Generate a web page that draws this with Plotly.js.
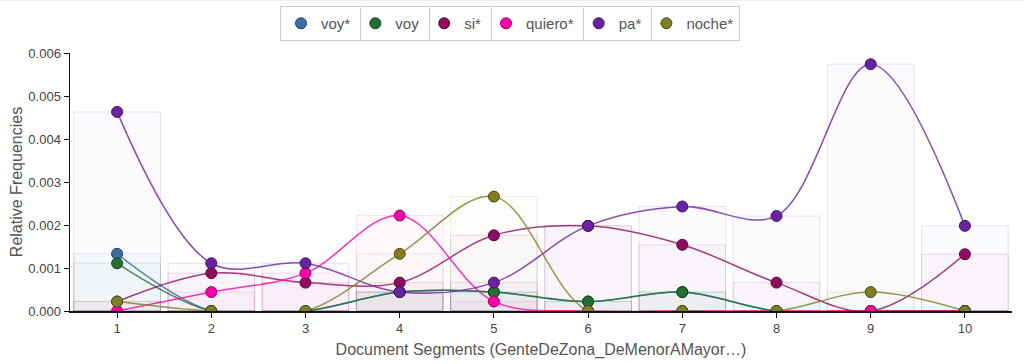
<!DOCTYPE html>
<html>
<head>
<meta charset="utf-8">
<script src="https://cdn.plot.ly/plotly-3.0.1.min.js"></script>
<style>
html,body{margin:0;padding:0;background:#fff;}
#chart{width:1024px;height:364px;}
</style>
</head>
<body>
<div id="chart"></div>
<script>
const segments = [1, 2, 3, 4, 5, 6, 7, 8, 9, 10];
const seriesNames = ["voy*", "voy", "si*", "quiero*", "pa*", "noche*"];
const seriesColors = ["#3a6ea5", "#22702f", "#900c5f", "#ff00a8", "#6a22a3", "#7f7f22"];
const voyStar   = [0.00133, 0, 0, 0.00044, 0.00044, 0.00022, 0.00044, 0, 0, 0];
const voy       = [0.00111, 0, 0, 0.00044, 0.00044, 0.00022, 0.00044, 0, 0, 0];
const siStar    = [0.00022, 0.00088, 0.00066, 0.00066, 0.00176, 0.00198, 0.00154, 0.00066, 0, 0.00132];
const quieroStar= [0, 0.00044, 0.00088, 0.00222, 0.00022, 0, 0, 0, 0, 0];
const paStar    = [0.00463, 0.00111, 0.00111, 0.00044, 0.00066, 0.00198, 0.00243, 0.00221, 0.00574, 0.00198];
const nocheStar = [0.00022, 0, 0, 0.00133, 0.00266, 0, 0, 0, 0.00044, 0];
const seriesValues = [voyStar, voy, siStar, quieroStar, paStar, nocheStar];
const yTicks = [0, 0.001, 0.002, 0.003, 0.004, 0.005, 0.006];

function rgba(hex, a){
  const n = parseInt(hex.slice(1), 16);
  return `rgba(${(n>>16)&255},${(n>>8)&255},${n&255},${a})`;
}
function darker(hex, f){
  const n = parseInt(hex.slice(1), 16);
  const r = Math.round(((n>>16)&255)*f), g = Math.round(((n>>8)&255)*f), b = Math.round((n&255)*f);
  return `rgb(${r},${g},${b})`;
}

const traces = [];
seriesNames.forEach((name, i) => {
  traces.push({
    type: "bar", x: segments, y: seriesValues[i], width: 0.92,
    marker: {color: rgba(seriesColors[i], 0.025), line: {color: rgba(seriesColors[i], 0.13), width: 1}},
    showlegend: false, hoverinfo: "skip", legendgroup: name
  });
});
seriesNames.forEach((name, i) => {
  traces.push({
    type: "scatter", mode: "lines", name: name, x: segments, y: seriesValues[i],
    line: {shape: "spline", smoothing: 1, color: rgba(seriesColors[i], 0.8), width: 1.5},
    showlegend: false, legendgroup: name
  });
});
seriesNames.forEach((name, i) => {
  traces.push({
    type: "scatter", mode: "markers", name: name, x: segments, y: seriesValues[i],
    marker: {size: 11, color: seriesColors[i], line: {color: darker(seriesColors[i], 0.6), width: 1}},
    legendgroup: name
  });
});

const W = 1024, H = 364, L = 70, R = 12, T = 53, B = 53;

const baseShapes = [
  {type: "line", xref: "paper", yref: "paper", x0: -L / (W - L - R), x1: (W - L) / (W - L - R),
   y0: (H - B - 0.5) / (H - T - B), y1: (H - B - 0.5) / (H - T - B), line: {color: "#eeeeee", width: 1}}
];

const layout = {
  width: W, height: H,
  margin: {l: L, r: R, t: T, b: B, pad: 0, autoexpand: false},
  paper_bgcolor: "#ffffff", plot_bgcolor: "#ffffff",
  font: {family: "Liberation Sans, Arial, sans-serif", color: "#555555", size: 13},
  barmode: "overlay",
  showlegend: true,
  legend: {
    orientation: "h", xref: "container", yref: "container",
    x: 510 / W, xanchor: "center", y: 1 - 6 / H, yanchor: "top",
    bordercolor: "#cccccc", borderwidth: 1, bgcolor: "rgba(0,0,0,0)",
    font: {size: 15, color: "#555555"}, itemwidth: 30,
    traceorder: "normal"
  },
  xaxis: {
    range: [0.5, 10.5], tickvals: segments, ticktext: segments.map(String),
    showgrid: false, zeroline: false, showline: true, linecolor: "#111111", linewidth: 1.5,
    ticks: "outside", ticklen: 5, tickcolor: "#111111", tickfont: {size: 13, color: "#444444"},
    title: {text: "Document Segments (GenteDeZona_DeMenorAMayor…)", font: {size: 16, color: "#555555"}, standoff: 8}
  },
  yaxis: {
    range: [0, 0.006], tickvals: yTicks, tickformat: ".3f",
    showgrid: false, zeroline: false, showline: true, linecolor: "#111111", linewidth: 1.5,
    ticks: "outside", ticklen: 5, tickcolor: "#111111", tickfont: {size: 13, color: "#444444"},
    title: {text: "Relative Frequencies", font: {size: 16, color: "#555555"}, standoff: 2}
  },
  shapes: baseShapes
};

Plotly.newPlot("chart", traces, layout, {displayModeBar: false, staticPlot: true}).then(gd => {
  const items = Array.from(gd.querySelectorAll(".legend .traces"));
  const bg = gd.querySelector(".legend .bg");
  if (items.length < 2 || !bg) return;
  const sz = gd._fullLayout._size;
  const toPx = x => (x - sz.l) / sz.w;
  const toPy = y => (sz.t + sz.h - y) / sz.h;
  const rootRect = gd.getBoundingClientRect();
  const bgRect = bg.getBoundingClientRect();
  const texts = items.map(el => el.querySelector(".legendtext").getBoundingClientRect());
  const points = items.map(el => el.querySelector(".legendpoints").getBoundingClientRect());
  const order = texts.map((t, k) => k).sort((a, b) => points[a].left - points[b].left);
  const divs = [];
  for (let k = 1; k < order.length; k++) {
    const prevText = texts[order[k - 1]], nextPt = points[order[k]];
    const xm = Math.round((prevText.right + nextPt.left) / 2 - rootRect.left) + 0.5;
    divs.push({
      type: "line", xref: "paper", yref: "paper",
      x0: toPx(xm), x1: toPx(xm),
      y0: toPy(bgRect.top - rootRect.top + 1), y1: toPy(bgRect.bottom - rootRect.top - 1),
      line: {color: "#cccccc", width: 1}
    });
  }
  return Plotly.relayout(gd, {shapes: baseShapes.concat(divs)});
});
</script>
</body>
</html>
